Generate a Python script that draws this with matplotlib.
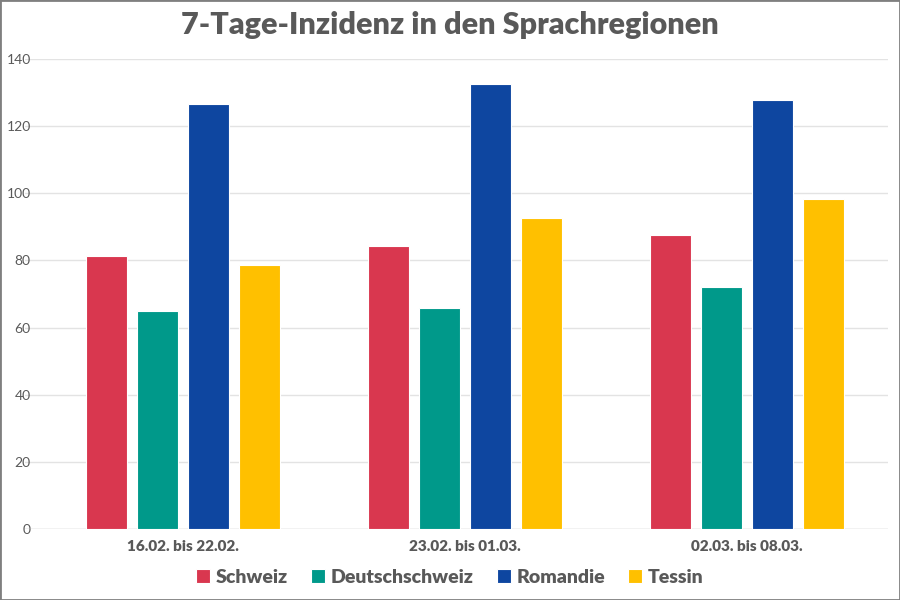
import numpy as np
import matplotlib.pyplot as plt
from matplotlib.patches import Rectangle

plt.rcParams['font.family'] = ['Lato', 'DejaVu Sans']

categories = ['16.02. bis 22.02.', '23.02. bis 01.03.', '02.03. bis 08.03.']
series = ['Schweiz', 'Deutschschweiz', 'Romandie', 'Tessin']
schweiz = [81.3, 84.2, 87.5]
deutschschweiz = [64.9, 65.8, 72.0]
romandie = [126.5, 132.6, 127.7]
tessin = [78.6, 92.6, 98.2]
colors = ['#D9374F', '#00998A', '#0E46A0', '#FFC000']

values = [schweiz, deutschschweiz, romandie, tessin]

fig = plt.figure(figsize=(9, 6), dpi=100)
ax = fig.add_axes([0.028, 0.118, 0.959, 0.784])

x = np.arange(len(categories))
width = 0.145
pitch = 0.181
for i, (name, vals) in enumerate(zip(series, values)):
    ax.bar(x + (i - 1.5) * pitch, vals, width, color=colors[i], label=name,
           edgecolor='white', linewidth=0.8, zorder=3)

ax.set_xlim(-0.558, 2.50)
ax.set_ylim(0, 140)
ax.set_yticks(range(0, 141, 20))
ax.set_xticks(x)
ax.set_xticklabels(categories, fontsize=11, fontweight='heavy', color='#595959')
ax.tick_params(axis='y', labelsize=10, labelcolor='#595959', length=0, pad=-4)
ax.tick_params(axis='x', length=0, pad=8)
ax.grid(axis='y', color='#E3E3E3', linewidth=1, zorder=0)
for s in ax.spines.values():
    s.set_visible(False)
ax.axhline(0, color='#D9D9D9', linewidth=1, zorder=2)

fig.text(0.5, 0.958, '7-Tage-Inzidenz in den Sprachregionen', ha='center', va='center',
         fontsize=22, fontweight='heavy', color='#595959')

fig.legend(loc='center', bbox_to_anchor=(0.5, 0.038), ncol=4, frameon=False,
           handlelength=0.7, handleheight=0.7, handletextpad=0.3,
           columnspacing=1.2, labelcolor='#595959',
           prop={'weight': 'heavy', 'size': 14})

fig.patches.append(Rectangle((0, 0), 1, 1, transform=fig.transFigure, fill=False,
                             edgecolor='#7F7F7F', linewidth=2))

fig.savefig('out.png', dpi=100)
